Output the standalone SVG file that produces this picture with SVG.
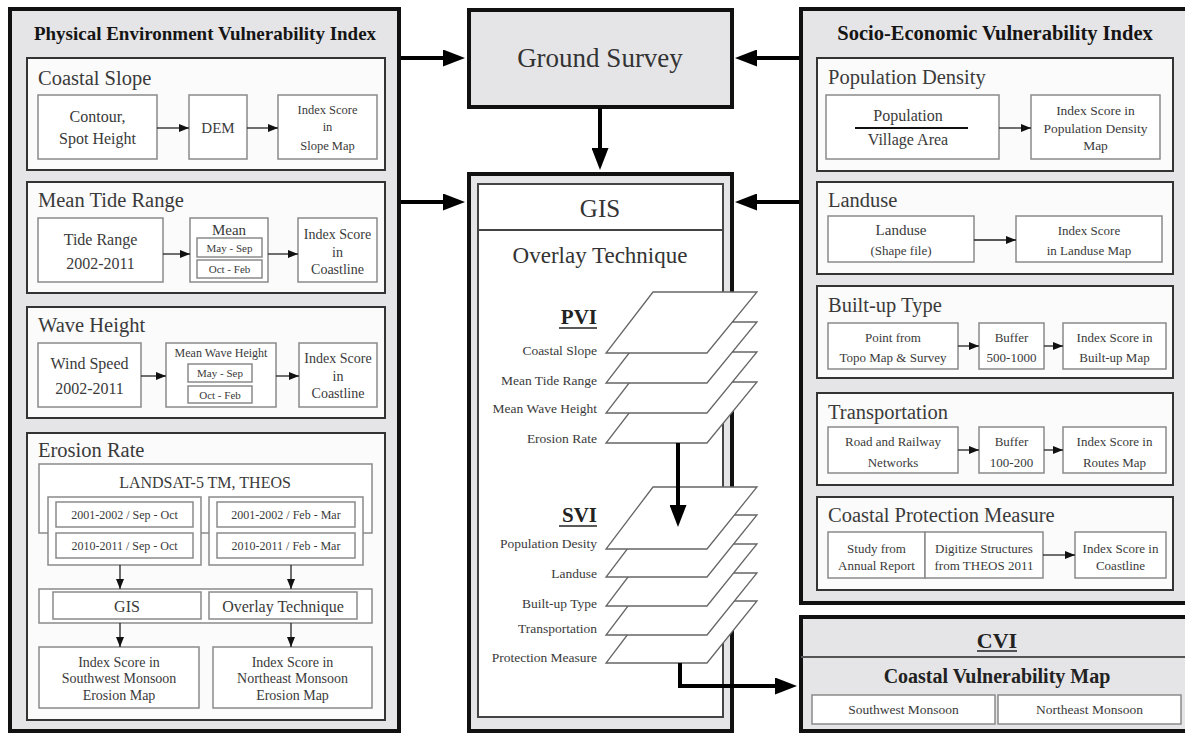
<svg xmlns="http://www.w3.org/2000/svg" width="1185" height="735" viewBox="0 0 1185 735">
<defs>
<marker id="big" markerUnits="userSpaceOnUse" markerWidth="22" markerHeight="17" refX="16" refY="8.5" orient="auto">
<path d="M0,0 L22,8.5 L0,17 z" fill="#000"/>
</marker>
<marker id="sm" markerUnits="userSpaceOnUse" markerWidth="10" markerHeight="8" refX="10" refY="4" orient="auto">
<path d="M0,0 L10,4 L0,8 z" fill="#111"/>
</marker>
<style>
text{font-family:"Liberation Serif","Times New Roman",serif;fill:#3a3a3a}
.panel{fill:#e5e5e7;stroke:#111;stroke-width:4}
.sec{fill:#fbfbfb;stroke:#333;stroke-width:2}
.box{fill:#fff;stroke:#8a8a8a;stroke-width:1.5}
.layer{fill:#fff;stroke:#666;stroke-width:1.3}
.h{font-weight:bold;font-size:19px;fill:#151515;text-anchor:middle}
.st{font-size:20.5px;fill:#3a3a3a}
.c{text-anchor:middle}
.r{text-anchor:end}
.f16{font-size:16px}
.f15{font-size:15px}
.f14{font-size:14px}
.f135{font-size:13.5px}
.f13{font-size:13px}
.f125{font-size:12.5px}
.f12{font-size:12px}
.f11{font-size:11px}
.thick{stroke:#000;stroke-width:4;fill:none}
.thin{stroke:#222;stroke-width:1.3;fill:none}
</style>
</defs>

<!-- LEFT PANEL -->
<g id="pevi">
<rect class="panel" x="10" y="9" width="389" height="722"/>
<text class="h" x="205" y="40">Physical Environment Vulnerability Index</text>
</g>

<g id="coastal-slope">
<rect class="sec" x="27" y="58" width="358" height="112"/>
<text class="st" x="38" y="85">Coastal Slope</text>
<rect class="box" x="38" y="95" width="119" height="64"/>
<text class="c f16" x="97.5" y="122">Contour,</text>
<text class="c f16" x="97.5" y="144">Spot Height</text>
<rect class="box" x="189" y="95" width="58" height="64"/>
<text class="c f15" x="218" y="133">DEM</text>
<rect class="box" x="278" y="95" width="99" height="64"/>
<text class="c f125" x="327.5" y="114">Index Score</text>
<text class="c f125" x="327.5" y="131">in</text>
<text class="c f125" x="327.5" y="150">Slope Map</text>
</g>

<g id="mean-tide-range">
<rect class="sec" x="27" y="182" width="358" height="111"/>
<text class="st" x="38" y="207">Mean Tide Range</text>
<rect class="box" x="38" y="218" width="125" height="64"/>
<text class="c f16" x="100.5" y="245">Tide Range</text>
<text class="c f16" x="100.5" y="269">2002-2011</text>
<rect class="box" x="190" y="218" width="78" height="64"/>
<text class="c f15" x="229" y="235">Mean</text>
<rect class="box" x="197" y="238" width="65" height="19"/>
<text class="c f11" x="229.5" y="251.5">May - Sep</text>
<rect class="box" x="197" y="260" width="65" height="18"/>
<text class="c f11" x="229.5" y="273">Oct - Feb</text>
<rect class="box" x="298" y="218" width="79" height="64"/>
<text class="c f14" x="337.5" y="239">Index Score</text>
<text class="c f14" x="337.5" y="257">in</text>
<text class="c f14" x="337.5" y="274">Coastline</text>
</g>

<g id="wave-height">
<rect class="sec" x="27" y="307" width="358" height="111"/>
<text class="st" x="38" y="332">Wave Height</text>
<rect class="box" x="38" y="343" width="103" height="64"/>
<text class="c f16" x="89.5" y="369">Wind Speed</text>
<text class="c f16" x="89.5" y="394">2002-2011</text>
<rect class="box" x="166" y="343" width="110" height="64"/>
<text class="c f12" x="221" y="357">Mean Wave Height</text>
<rect class="box" x="188" y="364" width="64" height="18"/>
<text class="c f11" x="220" y="377">May - Sep</text>
<rect class="box" x="188" y="386" width="64" height="17"/>
<text class="c f11" x="220" y="398.5">Oct - Feb</text>
<rect class="box" x="299" y="343" width="78" height="64"/>
<text class="c f14" x="338" y="363">Index Score</text>
<text class="c f14" x="338" y="381">in</text>
<text class="c f14" x="338" y="398">Coastline</text>
</g>

<g id="erosion-rate">
<rect class="sec" x="27" y="433" width="358" height="287"/>
<text class="st" x="38" y="457">Erosion Rate</text>
<rect class="box" x="39" y="464" width="333" height="69"/>
<text class="c f16" x="205" y="487.5">LANDSAT-5 TM, THEOS</text>
<rect class="box" x="48" y="497" width="153" height="68"/>
<rect class="box" x="209" y="497" width="154" height="68"/>
<rect class="box" x="56" y="502" width="137" height="25"/>
<text class="c f12" x="124.5" y="518.5">2001-2002 / Sep - Oct</text>
<rect class="box" x="56" y="533" width="137" height="25"/>
<text class="c f12" x="124.5" y="549.5">2010-2011 / Sep - Oct</text>
<rect class="box" x="217" y="502" width="138" height="25"/>
<text class="c f12" x="286" y="518.5">2001-2002 / Feb - Mar</text>
<rect class="box" x="217" y="533" width="138" height="25"/>
<text class="c f12" x="286" y="549.5">2010-2011 / Feb - Mar</text>
<rect class="box" x="39" y="589" width="333" height="34"/>
<rect class="box" x="53" y="592" width="148" height="27"/>
<text class="c f16" x="127" y="612">GIS</text>
<rect class="box" x="209" y="592" width="148" height="27"/>
<text class="c f16" x="283" y="612">Overlay Technique</text>
<rect class="box" x="39" y="647" width="160" height="61"/>
<text class="c f14" x="119" y="667">Index Score in</text>
<text class="c f14" x="119" y="683">Southwest Monsoon</text>
<text class="c f14" x="119" y="700">Erosion Map</text>
<rect class="box" x="213" y="647" width="159" height="61"/>
<text class="c f14" x="292.5" y="667">Index Score in</text>
<text class="c f14" x="292.5" y="683">Northeast Monsoon</text>
<text class="c f14" x="292.5" y="700">Erosion Map</text>
</g>

<!-- CENTER -->
<g id="ground-survey">
<rect class="panel" x="469" y="10" width="263" height="97"/>
<text class="c" x="600" y="67" style="font-size:27px;fill:#333">Ground Survey</text>
</g>

<g id="gis">
<rect class="panel" x="469" y="174" width="263" height="557"/>
<rect x="478" y="184" width="245" height="533" fill="#fff" stroke="#444" stroke-width="2"/>
<line x1="478" y1="230" x2="723" y2="230" stroke="#444" stroke-width="2"/>
<text class="c" x="600" y="217" style="font-size:25px;fill:#333">GIS</text>
<text class="c" x="600" y="263" style="font-size:23px;fill:#333">Overlay Technique</text>
</g>

<g id="pvi-layers">
<text class="r" x="597" y="324" style="font-size:21px;font-weight:bold;fill:#222">PVI</text>
<line x1="559" y1="328" x2="597" y2="328" stroke="#222" stroke-width="1.5"/>
<polygon class="layer" points="606,443 707,443 757,382 653,382"/>
<polygon class="layer" points="606,413 707,413 757,352 653,352"/>
<polygon class="layer" points="606,383 707,383 757,322 653,322"/>
<polygon class="layer" points="606,353 707,353 757,292 653,292"/>
<text class="r f135" x="597" y="355">Coastal Slope</text>
<text class="r f135" x="597" y="385">Mean Tide Range</text>
<text class="r f135" x="597" y="413">Mean Wave Height</text>
<text class="r f135" x="597" y="443">Erosion Rate</text>
</g>

<g id="svi-layers">
<text class="r" x="597" y="522" style="font-size:21px;font-weight:bold;fill:#222">SVI</text>
<line x1="559" y1="526" x2="597" y2="526" stroke="#222" stroke-width="1.5"/>
<polygon class="layer" points="606,663 707,663 757,601 653,601"/>
<polygon class="layer" points="606,635 707,635 757,573 653,573"/>
<polygon class="layer" points="606,606 707,606 757,544 653,544"/>
<polygon class="layer" points="606,577 707,577 757,515 653,515"/>
<polygon class="layer" points="606,549 707,549 757,487 653,487"/>
<text class="r f135" x="597" y="548">Population Desity</text>
<text class="r f135" x="597" y="578">Landuse</text>
<text class="r f135" x="597" y="608">Built-up Type</text>
<text class="r f135" x="597" y="633">Transportation</text>
<text class="r f135" x="597" y="662">Protection Measure</text>
</g>

<!-- RIGHT PANEL -->
<g id="sevi">
<rect class="panel" x="801" y="9" width="400" height="594"/>
<text class="h" x="995" y="40" style="font-size:20.5px">Socio-Economic Vulnerability Index</text>
</g>

<g id="population-density">
<rect class="sec" x="817" y="58" width="356" height="113"/>
<text class="st" x="828" y="84">Population Density</text>
<rect class="box" x="826" y="95" width="173" height="64"/>
<text class="c f16" x="908" y="121">Population</text>
<line x1="855" y1="128" x2="968" y2="128" stroke="#111" stroke-width="2"/>
<text class="c f16" x="908" y="145">Village Area</text>
<rect class="box" x="1031" y="95" width="129" height="64"/>
<text class="c f135" x="1095.5" y="114.5">Index Score in</text>
<text class="c f135" x="1095.5" y="132.5">Population Density</text>
<text class="c f135" x="1095.5" y="149.5">Map</text>
</g>

<g id="landuse">
<rect class="sec" x="817" y="182" width="356" height="92"/>
<text class="st" x="828" y="207">Landuse</text>
<rect class="box" x="828" y="216" width="146" height="46"/>
<text class="c f15" x="901" y="235">Landuse</text>
<text class="c f13" x="901" y="255">(Shape file)</text>
<rect class="box" x="1016" y="216" width="146" height="46"/>
<text class="c f13" x="1089" y="235">Index Score</text>
<text class="c f13" x="1089" y="255">in Landuse Map</text>
</g>

<g id="built-up-type">
<rect class="sec" x="817" y="286" width="356" height="92"/>
<text class="st" x="828" y="312">Built-up Type</text>
<rect class="box" x="828" y="323" width="130" height="46"/>
<text class="c f13" x="893" y="341.5">Point from</text>
<text class="c f13" x="893" y="361.5">Topo Map &amp; Survey</text>
<rect class="box" x="979" y="323" width="65" height="46"/>
<text class="c f13" x="1011.5" y="341.5">Buffer</text>
<text class="c f13" x="1011.5" y="361.5">500-1000</text>
<rect class="box" x="1063" y="323" width="103" height="46"/>
<text class="c f13" x="1114.5" y="341.5">Index Score in</text>
<text class="c f13" x="1114.5" y="361.5">Built-up Map</text>
</g>

<g id="transportation">
<rect class="sec" x="817" y="393" width="356" height="92"/>
<text class="st" x="828" y="419">Transportation</text>
<rect class="box" x="828" y="427" width="130" height="46"/>
<text class="c f13" x="893" y="445.5">Road and Railway</text>
<text class="c f13" x="893" y="466.5">Networks</text>
<rect class="box" x="979" y="427" width="65" height="46"/>
<text class="c f13" x="1011.5" y="445.5">Buffer</text>
<text class="c f13" x="1011.5" y="466.5">100-200</text>
<rect class="box" x="1063" y="427" width="103" height="46"/>
<text class="c f13" x="1114.5" y="445.5">Index Score in</text>
<text class="c f13" x="1114.5" y="466.5">Routes Map</text>
</g>

<g id="coastal-protection">
<rect class="sec" x="817" y="497" width="356" height="93"/>
<text class="st" x="828" y="522">Coastal Protection Measure</text>
<rect class="box" x="828" y="532" width="97" height="46"/>
<text class="c f13" x="876.5" y="552.5">Study from</text>
<text class="c f13" x="876.5" y="569.5">Annual Report</text>
<rect class="box" x="925" y="532" width="118" height="46"/>
<text class="c f13" x="984" y="552.5">Digitize Structures</text>
<text class="c f13" x="984" y="569.5">from THEOS 2011</text>
<rect class="box" x="1075" y="532" width="91" height="46"/>
<text class="c f13" x="1120.5" y="552.5">Index Score in</text>
<text class="c f13" x="1120.5" y="569.5">Coastline</text>
</g>

<g id="cvi">
<rect class="panel" x="801" y="617" width="400" height="114"/>
<line x1="801" y1="657" x2="1185" y2="657" stroke="#555" stroke-width="2"/>
<text class="c" x="997" y="648" style="font-size:22px;font-weight:bold;fill:#222">CVI</text>
<line x1="977" y1="651" x2="1017" y2="651" stroke="#222" stroke-width="1.5"/>
<text class="c" x="997" y="683" style="font-size:20px;font-weight:bold;fill:#222">Coastal Vulnerability Map</text>
<rect class="box" x="812" y="695" width="183" height="29"/>
<text class="c f135" x="903.5" y="714">Southwest Monsoon</text>
<rect class="box" x="998" y="695" width="183" height="29"/>
<text class="c f135" x="1089.5" y="714">Northeast Monsoon</text>
</g>

<!-- CONNECTORS -->
<g id="connectors">
<line class="thick" x1="401" y1="58" x2="459" y2="58" marker-end="url(#big)"/>
<line class="thick" x1="401" y1="202" x2="459" y2="202" marker-end="url(#big)"/>
<line class="thick" x1="799" y1="58" x2="741" y2="58" marker-end="url(#big)"/>
<line class="thick" x1="799" y1="202" x2="741" y2="202" marker-end="url(#big)"/>
<line class="thick" x1="600" y1="108" x2="600" y2="164" marker-end="url(#big)"/>
<line class="thick" x1="678" y1="443" x2="678" y2="521" marker-end="url(#big)"/>
<path class="thick" d="M680,663 V686 H791" marker-end="url(#big)"/>
<line class="thin" x1="157" y1="128" x2="189" y2="128" marker-end="url(#sm)"/>
<line class="thin" x1="247" y1="128" x2="278" y2="128" marker-end="url(#sm)"/>
<line class="thin" x1="163" y1="254" x2="190" y2="254" marker-end="url(#sm)"/>
<line class="thin" x1="268" y1="254" x2="298" y2="254" marker-end="url(#sm)"/>
<line class="thin" x1="141" y1="376" x2="166" y2="376" marker-end="url(#sm)"/>
<line class="thin" x1="276" y1="376" x2="299" y2="376" marker-end="url(#sm)"/>
<line class="thin" x1="120" y1="565" x2="120" y2="589" marker-end="url(#sm)"/>
<line class="thin" x1="291" y1="565" x2="291" y2="589" marker-end="url(#sm)"/>
<line class="thin" x1="120" y1="623" x2="120" y2="647" marker-end="url(#sm)"/>
<line class="thin" x1="291" y1="623" x2="291" y2="647" marker-end="url(#sm)"/>
<line class="thin" x1="999" y1="128" x2="1031" y2="128" marker-end="url(#sm)"/>
<line class="thin" x1="974" y1="240" x2="1016" y2="240" marker-end="url(#sm)"/>
<line class="thin" x1="958" y1="346" x2="979" y2="346" marker-end="url(#sm)"/>
<line class="thin" x1="1044" y1="346" x2="1063" y2="346" marker-end="url(#sm)"/>
<line class="thin" x1="958" y1="450" x2="979" y2="450" marker-end="url(#sm)"/>
<line class="thin" x1="1044" y1="450" x2="1063" y2="450" marker-end="url(#sm)"/>
<line class="thin" x1="1043" y1="555" x2="1075" y2="555" marker-end="url(#sm)"/>
</g>
</svg>
